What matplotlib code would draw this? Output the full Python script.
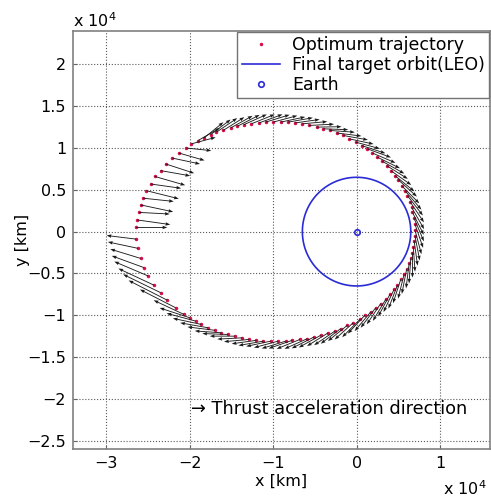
import numpy as np
import matplotlib
matplotlib.use("Agg")
import matplotlib.pyplot as plt
from matplotlib.ticker import FixedLocator, FuncFormatter

# trajectory points (x10^4 km), clockwise from the upper-left
traj_x = [-2.64, -2.63, -2.61, -2.59, -2.56, -2.52, -2.47, -2.42, -2.35, -2.29, -2.21, -2.13, -2.04,
          -1.98, -1.90, -1.83, -1.75, -1.68, -1.60, -1.51, -1.43, -1.35, -1.26, -1.17, -1.09,
          -1.00, -0.91, -0.82, -0.74, -0.65, -0.57, -0.48, -0.40, -0.32, -0.24, -0.16, -0.09,
          -0.01, 0.06, 0.13, 0.19, 0.25, 0.31, 0.36, 0.41, 0.46, 0.50, 0.54, 0.58,
          0.61, 0.64, 0.66, 0.67, 0.69, 0.70, 0.70, 0.70, 0.69, 0.68, 0.67, 0.65,
          0.63, 0.60, 0.57, 0.53, 0.49, 0.45, 0.40, 0.35, 0.29, 0.23, 0.17, 0.10,
          0.04, -0.04, -0.11, -0.19, -0.26, -0.34, -0.43, -0.51, -0.59, -0.68, -0.77, -0.85,
          -0.94, -1.03, -1.12, -1.20, -1.29, -1.37, -1.46, -1.54, -1.62, -1.70, -1.78, -1.86,
          -1.93, -2.00,
          -2.07, -2.17, -2.27, -2.35, -2.43, -2.50, -2.55, -2.59, -2.62, -2.64]
traj_y = [0.05, 0.14, 0.23, 0.32, 0.40, 0.49, 0.57, 0.66, 0.73, 0.81, 0.88, 0.94, 1.00,
          1.05, 1.09, 1.12, 1.16, 1.19, 1.21, 1.24, 1.26, 1.28, 1.29, 1.30, 1.31,
          1.31, 1.31, 1.31, 1.30, 1.29, 1.27, 1.25, 1.23, 1.21, 1.18, 1.15, 1.11,
          1.07, 1.03, 0.99, 0.94, 0.89, 0.84, 0.79, 0.73, 0.67, 0.62, 0.55, 0.49,
          0.43, 0.36, 0.29, 0.23, 0.16, 0.09, 0.02, -0.05, -0.11, -0.18, -0.25, -0.32,
          -0.38, -0.45, -0.51, -0.57, -0.64, -0.69, -0.75, -0.81, -0.86, -0.91, -0.96, -1.00,
          -1.05, -1.09, -1.12, -1.16, -1.19, -1.21, -1.24, -1.26, -1.28, -1.29, -1.30, -1.31,
          -1.31, -1.31, -1.31, -1.30, -1.29, -1.27, -1.25, -1.23, -1.21, -1.18, -1.15, -1.11,
          -1.07, -1.03,
          -0.99, -0.91, -0.82, -0.73, -0.64, -0.53, -0.43, -0.32, -0.20, -0.09]

# thrust acceleration direction (deg) and drawn arrow length (x10^4 km)
thrust_deg = [0, -8, -3, -12, -6, -14, -8, -16, -10, -18, -12, -16, -6,
              15, 30, 39, 37, 34, 32, 29, 27, 24, 22, 20, 17,
              15, 12, 10, 8, 5, 3, 1, -2, -4, -7, -10, -12,
              -15, -18, -20, -23, -26, -29, -32, -35, -39, -42, -45, -49,
              -52, -56, -60, -63, -67, -71, -75, -79, -82, -86, -90, -94,
              -97, -101, -104, -108, -111, -115, -118, -121, -124, -127, -130, -133,
              -135, -138, -141, -143, -146, -148, -151, -153, -156, -158, -161, -163,
              -165, -168, -170, -172, -175, -177, 180, 178, 176, 173, 170, 168,
              165, 162,
              155, 153, 153, 154, 155, 157, 160, 163, 168, 173]
thrust_len = [0.37, 0.40, 0.37, 0.40, 0.37, 0.40, 0.37, 0.38, 0.36, 0.36, 0.34, 0.32, 0.30,
              0.30, 0.30, 0.30, 0.30, 0.30, 0.30, 0.30, 0.30, 0.30, 0.30, 0.30, 0.30,
              0.30, 0.30, 0.30, 0.30, 0.30, 0.30, 0.30, 0.30, 0.30, 0.30, 0.30, 0.30,
              0.30, 0.30, 0.30, 0.30, 0.30, 0.30, 0.30, 0.30, 0.30, 0.30, 0.30, 0.30,
              0.30, 0.30, 0.30, 0.30, 0.30, 0.30, 0.30, 0.30, 0.30, 0.30, 0.30, 0.30,
              0.30, 0.30, 0.30, 0.30, 0.30, 0.30, 0.30, 0.30, 0.30, 0.30, 0.30, 0.30,
              0.30, 0.30, 0.30, 0.30, 0.30, 0.30, 0.30, 0.30, 0.30, 0.30, 0.30, 0.30,
              0.30, 0.30, 0.30, 0.30, 0.30, 0.30, 0.30, 0.31, 0.32, 0.33, 0.34, 0.35,
              0.36, 0.38,
              0.40, 0.48, 0.52, 0.50, 0.47, 0.44, 0.41, 0.38, 0.37, 0.36]

leo_radius = 0.65   # x10^4 km
earth_xy = (0.0, 0.0)

x_ticks = [-3, -2, -1, 0, 1]
y_ticks = [-2.5, -2, -1.5, -1, -0.5, 0, 0.5, 1, 1.5, 2]

scale = 1e4
tx = np.array(traj_x) * scale
ty = np.array(traj_y) * scale
ang = np.radians(thrust_deg)
u = np.array(thrust_len) * scale * np.cos(ang)
v = np.array(thrust_len) * scale * np.sin(ang)

plt.rcParams['font.family'] = 'DejaVu Sans'
plt.rcParams['axes.unicode_minus'] = True

fig = plt.figure(figsize=(4.91, 4.99), dpi=100)
ax = fig.add_axes([0.1487, 0.1002, 0.8493, 0.8377])

ax.quiver(tx, ty, u, v, angles='xy', scale_units='xy', scale=1, color='#1a1a1a',
          width=0.0021, headwidth=4.0, headlength=5.5, headaxislength=5.0, zorder=3)
ax.plot(tx, ty, '.', color='#d8104a', markersize=3, label='Optimum trajectory', zorder=2)

th = np.linspace(0, 2 * np.pi, 300)
ax.plot(leo_radius * scale * np.cos(th), leo_radius * scale * np.sin(th),
        color='#2b2bd6', lw=1.2, label='Final target orbit(LEO)', zorder=2)
ax.plot(earth_xy[0], earth_xy[1], 'o', mfc='none', mec='#2b2bd6', mew=1.2,
        markersize=4, label='Earth', zorder=4)

ax.set_xlim(-3.4 * scale, 1.6 * scale)
ax.set_ylim(-2.6 * scale, 2.4 * scale)

fmt = FuncFormatter(lambda val, pos: ('%g' % (val / scale)).replace('-', '\u2212'))
ax.xaxis.set_major_locator(FixedLocator([t * scale for t in x_ticks]))
ax.yaxis.set_major_locator(FixedLocator([t * scale for t in y_ticks]))
ax.xaxis.set_major_formatter(fmt)
ax.yaxis.set_major_formatter(fmt)
ax.tick_params(direction='in', length=3, labelsize=11.5, color='0.4', pad=5)

ax.grid(True, linestyle=':', color='0.35', linewidth=0.8)
for s in ax.spines.values():
    s.set_color('0.5')
    s.set_linewidth(1.2)

ax.set_xlabel('x [km]', fontsize=11.5, labelpad=2)
ax.set_ylabel('y [km]', fontsize=11.5, labelpad=-2)

fig.text(0.149, 0.94, r'x 10$^{4}$', fontsize=11.5, ha='left', va='bottom')
fig.text(0.99, 0.003, r'x 10$^{4}$', fontsize=11.5, ha='right', va='bottom')

ax.text(-1.99 * scale, -2.12 * scale, '\u2192 Thrust acceleration direction',
        fontsize=12.8, ha='left', va='center')

leg = ax.legend(loc='upper right', bbox_to_anchor=(1.0, 1.0), borderaxespad=0.05,
                fancybox=False, framealpha=1, edgecolor='0.45', fontsize=12.5,
                labelspacing=0.1, handlelength=2.2, handletextpad=0.7, borderpad=0.25,
                markerscale=1.0)
leg.get_frame().set_linewidth(1.0)

fig.savefig('out.png', dpi=100)
